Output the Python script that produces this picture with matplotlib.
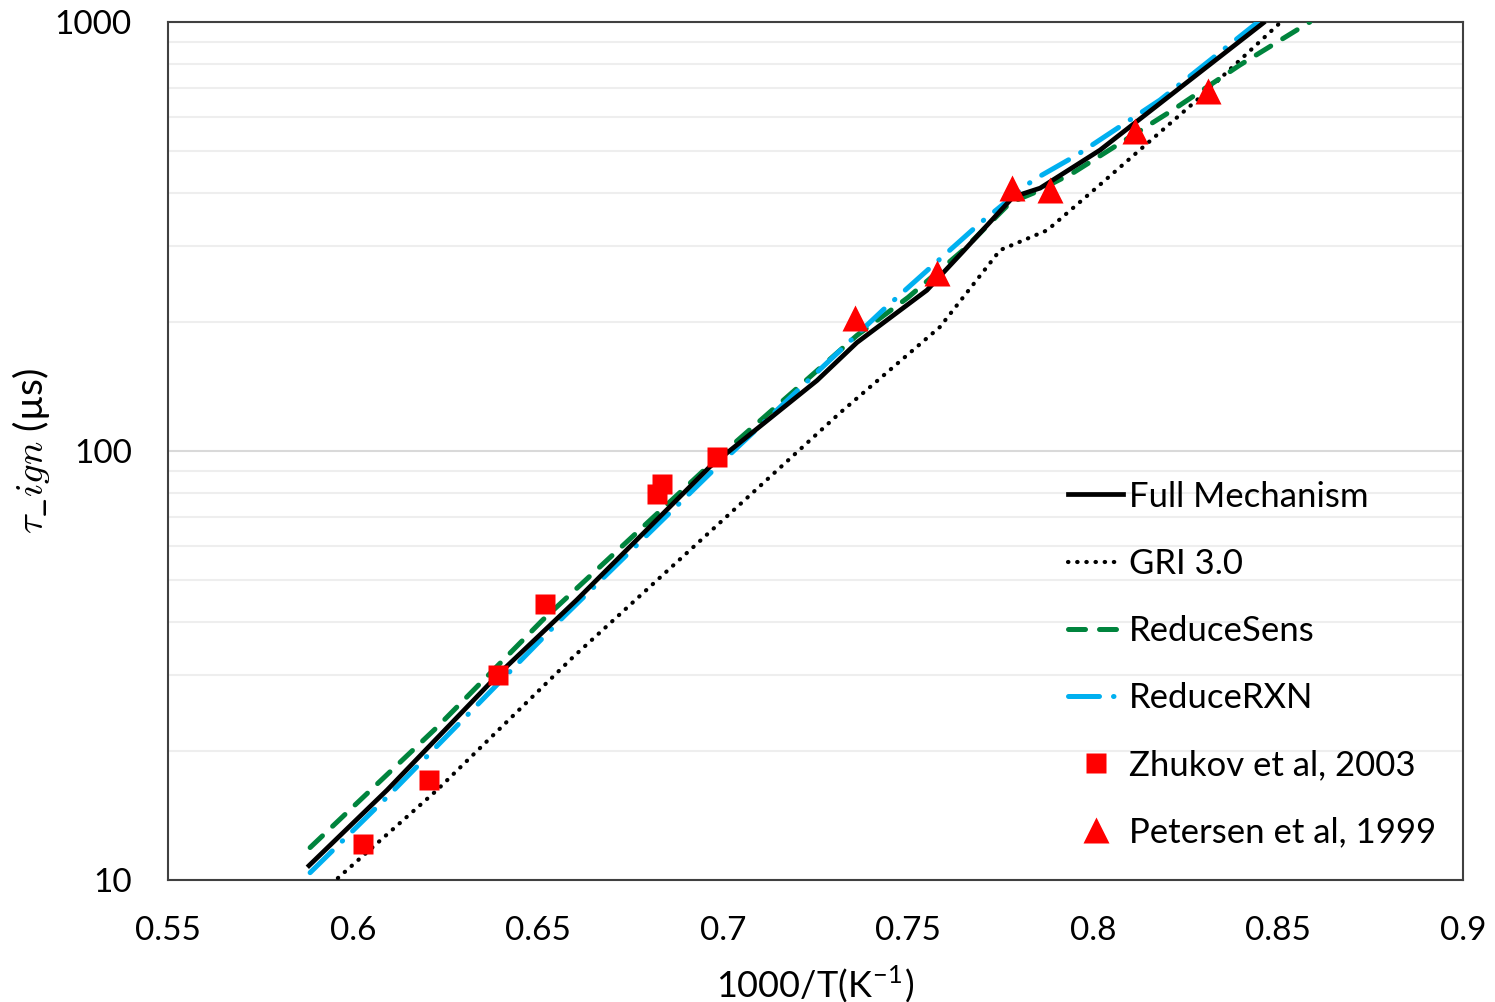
import matplotlib.pyplot as plt
from matplotlib.ticker import FixedLocator, NullFormatter

plt.rcParams['font.family'] = ['Lato', 'DejaVu Sans']
plt.rcParams['mathtext.fontset'] = 'cm'

# Dados
full_x = [0.5881, 0.6092, 0.6397, 0.6605, 0.6965, 0.7254, 0.7362, 0.7551, 0.7649, 0.7784, 0.7857, 0.8019, 0.8460]
full_y = [10.8, 16.2, 30.4, 45, 92, 146, 179, 237, 292, 391, 410, 503, 995]

gri_x = [0.5959, 0.6227, 0.6595, 0.7316, 0.7586, 0.7749, 0.7876, 0.8011, 0.8281, 0.8505]
gri_y = [10.1, 16.2, 33.1, 122.7, 194.5, 294, 327, 412, 658, 995]

sens_x = [0.5884, 0.6227, 0.6513, 0.6965, 0.7208, 0.7362, 0.7500, 0.7649, 0.7776, 0.7838, 0.7946, 0.8216, 0.8397, 0.8586]
sens_y = [11.9, 22.7, 40.4, 93, 142, 186, 228, 294, 379, 399, 445, 624, 794, 1000]

rxn_x = [0.5884, 0.6092, 0.6568, 0.6984, 0.7208, 0.7432, 0.7695, 0.7838, 0.7957, 0.8181, 0.8446]
rxn_y = [10.4, 15.6, 41, 92, 140, 213, 340, 428, 490, 658, 1000]

zhukov_x = [0.6027, 0.6205, 0.6392, 0.6519, 0.6822, 0.6835, 0.6984]
zhukov_y = [12.1, 17.1, 30.0, 44, 79.4, 83.8, 96.8]

petersen_x = [0.7357, 0.7578, 0.7781, 0.7884, 0.8113, 0.8311]
petersen_y = [204, 260, 410, 405, 557, 690]

fig = plt.figure(figsize=(14.95, 10.02), dpi=100)
ax = fig.add_axes([0.1124, 0.1218, 0.8662, 0.8562])

ax.plot(full_x, full_y, color='black', lw=3.4, label='Full Mechanism', zorder=4)
ax.plot(gri_x, gri_y, color='black', lw=3.0, linestyle=(0, (0.1, 2.1)),
        dash_capstyle='round', label='GRI 3.0', zorder=3)
ax.plot(sens_x, sens_y, color='#00843d', lw=3.6, linestyle=(0, (3.4, 2.8)),
        dash_capstyle='round', label='ReduceSens', zorder=3)
ax.plot(rxn_x, rxn_y, color='#00b0f0', lw=3.6, linestyle=(0, (6.2, 2.8, 0.1, 2.8)),
        dash_capstyle='round', label='ReduceRXN', zorder=3)
ax.plot(zhukov_x, zhukov_y, 's', color='red', ms=14, mec='none',
        label='Zhukov et al, 2003', zorder=5)
ax.plot(petersen_x, petersen_y, '^', color='red', ms=19, mec='none',
        label='Petersen et al, 1999', zorder=5)

ax.set_yscale('log')
ax.set_xlim(0.55, 0.9)
ax.set_ylim(10, 1000)
ax.set_xticks([0.55, 0.6, 0.65, 0.7, 0.75, 0.8, 0.85, 0.9])
ax.set_xticklabels(['0.55', '0.6', '0.65', '0.7', '0.75', '0.8', '0.85', '0.9'])
ax.set_yticks([10, 100, 1000])
ax.set_yticklabels(['10', '100', '1000'])
ax.yaxis.set_minor_locator(FixedLocator([m * 10 ** e for e in (1, 2) for m in range(2, 10)]))
ax.yaxis.set_minor_formatter(NullFormatter())
ax.tick_params(axis='x', which='both', length=0, labelsize=24, pad=26)
ax.tick_params(axis='y', which='both', length=0, labelsize=24, pad=26)

ax.grid(axis='y', which='major', color='#d9d9d9', lw=1.5)
ax.grid(axis='y', which='minor', color='#eeeeee', lw=1.5)
ax.set_axisbelow(True)
for s in ax.spines.values():
    s.set_color('#404040')
    s.set_linewidth(1.5)

ax.set_xlabel('1000/T(K$^{\\mathregular{-1}}$)', fontsize=26, labelpad=12)
ax.set_ylabel(r'$\tau\_ign$ (µs)', fontsize=28, labelpad=2)

leg = ax.legend(loc='lower right', bbox_to_anchor=(0.995, 0.013), frameon=False,
                fontsize=25, labelspacing=1.01, handlelength=1.6, handletextpad=0.15,
                borderaxespad=0.2)

plt.savefig('out.png', dpi=100)
